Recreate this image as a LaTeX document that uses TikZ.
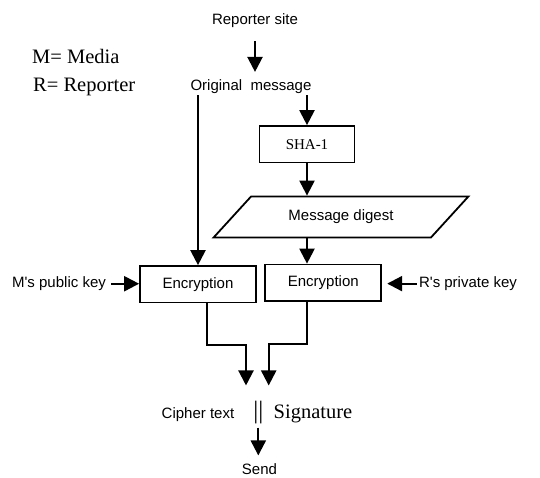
\documentclass[tikz,border=0pt]{standalone}
\usepackage{fontspec}
\setmainfont{Liberation Serif}
\newfontfamily\arialfont{Liberation Sans}
\usetikzlibrary{arrows.meta}
\usetikzlibrary{shapes.geometric}

\begin{document}
\begin{tikzpicture}[x=1pt,y=-1pt]
\tikzstyle{every node}=[font=\arialfont\fontsize{15}{18}\selectfont, inner sep=2pt]
\tikzstyle{box}=[draw, line width=1.8pt, minimum width=116pt, minimum height=36.5pt]
\tikzstyle{arr}=[->, >={Triangle[width=15pt,length=15pt]}, line width=2.2pt]
\tikzstyle{big}=[font=\fontsize{20.5}{24}\selectfont]
\useasboundingbox (0,0) rectangle (540,477);
\node [anchor=base] (site) at (255,24) {Reporter site};
\node [big, anchor=base west] (media) at (30,63.3) {M= Media};
\node [big, anchor=base west] (rep) at (31,91) {R= Reporter};
\node [anchor=base] (orig) at (251,90) {Original\ \ message};
\node [box, minimum width=95pt, font=\rmfamily\fontsize{15}{18}\selectfont] (sha) at (307,144.3) {SHA-1};
\node [trapezium, draw, line width=1.8pt, trapezium left angle=38.4, trapezium right angle=141.6,
  trapezium stretches=true, minimum width=255pt, minimum height=41pt] (digest) at (341,217) {Message digest};
\node [box] (enc1) at (198,284.3) {Encryption};
\node [box] (enc2) at (323.3,282.8) {Encryption};
\node [anchor=base] (pub) at (59,287.6) {M's public key};
\node [anchor=base] (priv) at (468,287.5) {R's private key};
\node [anchor=base] (cipher) at (198,418) {Cipher text};
\node [anchor=base, font=\rmfamily\fontsize{25}{28}\selectfont] (bars) at (258.3,418) {||};
\node [big, anchor=base] (sig) at (313,418) {Signature};
\node [anchor=base] (send) at (259.5,474.5) {Send};
\draw [arr, shorten <=12pt, shorten >=5pt] (site.south) -- (site.south |- orig.north);
\draw [arr] (orig.south -| sha.north) -- (sha.north);
\draw [arr] (orig.south -| enc1.north) -- (enc1.north);
\draw [arr] (sha.south) -- (sha.south |- digest.north);
\draw [arr] (digest.south -| sha.south) -- (sha.south |- enc2.north);
\draw [arr, shorten <=3pt] (pub.east) -- (pub.east -| enc1.west);
\draw [arr, shorten >=5pt] (priv.west) -- (priv.west -| enc2.east);
\draw [arr, shorten >=13pt] ([xshift=9pt]enc1.south) -- ++(0,41.6) -| ([xshift=-12.3pt]bars.north);
\draw [arr, shorten >=13pt] ([xshift=-16pt]enc2.south) -- ++(0,42.3) -| ([xshift=10.4pt]bars.north);
\draw [arr, shorten <=2pt, shorten >=6pt] (bars.south) -- (bars.south |- send.north);
\end{tikzpicture}
\end{document}
